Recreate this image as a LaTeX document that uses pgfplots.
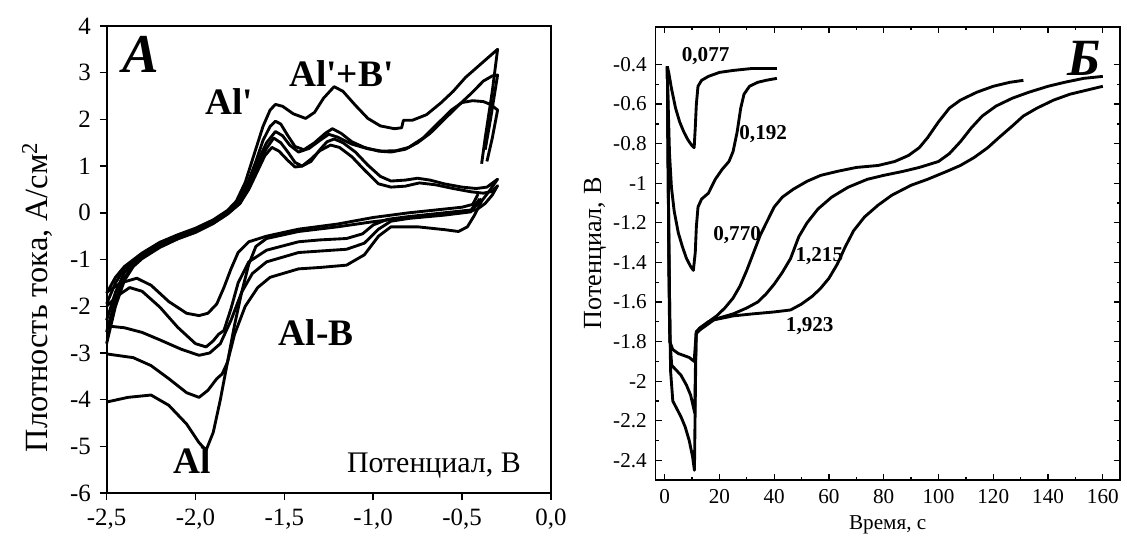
\documentclass[border=0pt]{standalone}
\usepackage{fontspec}
\setmainfont{Liberation Serif}
\usepackage{pgfplots}
\pgfplotsset{compat=1.18}
\pgfplotsset{
  /pgf/number format/assume math mode=true,
  curve/.style={black, line width=1.15pt, line join=round, no markers},
}
\newcommand{\ap}{\textquotesingle}
\begin{document}
\begin{tikzpicture}
\path (0,0) rectangle (450.8pt,216pt);
% ---------- panel A ----------
\begin{axis}[
  at={(42.8pt,18pt)}, anchor=south west,
  scale only axis, width=178.4pt, height=187.6pt,
  xmin=-2.5, xmax=0, ymin=-6, ymax=4,
  xtick={-2.5,-2,-1.5,-1,-0.5,0},
  xticklabels={{-2,5},{-2,0},{-1,5},{-1,0},{-0,5},{0,0}},
  ytick={-6,-5,-4,-3,-2,-1,0,1,2,3,4},
  tick align=outside, tick pos=left,
  major tick length=2.8pt,
  axis line style={line width=0.8pt},
  tick style={line width=0.6pt, black},
  tick label style={font=\fontsize{10}{12}\selectfont},
  ylabel={Плотность тока, А/см\textsuperscript{2}},
  ylabel style={font=\fontsize{13}{15}\selectfont, at={(ticklabel cs:0.42)}},
  clip=false,
]
% loop 1: anodic, then return
\addplot[curve] coordinates {
(-2.5,-1.72) (-2.45,-1.38) (-2.4,-1.15) (-2.3,-0.86) (-2.2,-0.63) (-2.1,-0.47) (-2.0,-0.33) (-1.9,-0.15) (-1.82,0.05) (-1.77,0.25) (-1.72,0.65) (-1.67,1.25) (-1.62,1.85) (-1.58,2.2) (-1.55,2.32) (-1.51,2.28) (-1.45,2.12) (-1.38,2.02) (-1.33,2.15) (-1.28,2.45) (-1.22,2.7) (-1.17,2.6) (-1.1,2.3) (-1.03,2.02) (-0.96,1.86) (-0.88,1.8) (-0.84,1.82) (-0.83,1.98) (-0.78,1.98) (-0.7,2.1) (-0.62,2.35) (-0.55,2.6) (-0.48,2.9) (-0.42,3.1) (-0.36,3.3) (-0.3,3.5)
(-0.33,2.6) (-0.37,1.6) (-0.39,1.05)
};
\addplot[curve] coordinates {
(-0.41,0.4) (-0.44,0.18) (-0.5,0.12) (-0.6,0.08) (-0.8,0.0) (-1.0,-0.1) (-1.2,-0.24) (-1.42,-0.35) (-1.6,-0.5) (-1.7,-0.62) (-1.76,-0.85) (-1.8,-1.2) (-1.84,-1.6) (-1.88,-1.95) (-1.93,-2.15) (-1.98,-2.2) (-2.05,-2.15) (-2.15,-1.9) (-2.25,-1.55) (-2.33,-1.4) (-2.42,-1.5) (-2.5,-1.7)
};
% loop 2
\addplot[curve] coordinates {
(-2.5,-1.95) (-2.45,-1.5) (-2.4,-1.2) (-2.3,-0.9) (-2.2,-0.66) (-2.1,-0.5) (-2.0,-0.36) (-1.9,-0.18) (-1.82,0.02) (-1.76,0.25) (-1.71,0.6) (-1.66,1.1) (-1.62,1.55) (-1.58,1.85) (-1.55,1.96) (-1.52,1.9) (-1.48,1.65) (-1.44,1.42) (-1.39,1.35) (-1.33,1.5) (-1.27,1.7) (-1.23,1.8) (-1.18,1.7) (-1.12,1.52) (-1.05,1.4) (-0.97,1.32) (-0.9,1.3) (-0.82,1.36) (-0.75,1.5) (-0.68,1.7) (-0.6,2.0) (-0.52,2.3) (-0.45,2.55) (-0.38,2.82) (-0.33,2.93) (-0.3,2.95)
(-0.34,2.0) (-0.37,1.35)
};
\addplot[curve] coordinates {
(-0.4,0.3) (-0.45,0.06) (-0.6,0.0) (-0.8,-0.08) (-0.92,-0.14) (-1.0,-0.26) (-1.06,-0.45) (-1.15,-0.55) (-1.3,-0.58) (-1.42,-0.62) (-1.6,-0.8) (-1.7,-1.05) (-1.76,-1.5) (-1.8,-2.05) (-1.84,-2.52) (-1.87,-2.6) (-1.9,-2.74) (-1.94,-2.87) (-2.0,-2.8) (-2.1,-2.45) (-2.2,-2.02) (-2.3,-1.68) (-2.37,-1.6) (-2.44,-1.78) (-2.5,-2.0)
};
% loop 3
\addplot[curve] coordinates {
(-2.5,-2.3) (-2.45,-1.7) (-2.4,-1.28) (-2.3,-0.93) (-2.2,-0.7) (-2.1,-0.53) (-2.0,-0.39) (-1.9,-0.2) (-1.82,0.0) (-1.76,0.22) (-1.7,0.6) (-1.65,1.1) (-1.6,1.5) (-1.55,1.74) (-1.51,1.65) (-1.47,1.45) (-1.42,1.3) (-1.36,1.38) (-1.3,1.55) (-1.25,1.68) (-1.2,1.62) (-1.12,1.47) (-1.03,1.37) (-0.95,1.32) (-0.87,1.33) (-0.8,1.4) (-0.72,1.6) (-0.64,1.9) (-0.56,2.2) (-0.5,2.36) (-0.44,2.4) (-0.38,2.38) (-0.34,2.32) (-0.3,2.2)
(-0.33,1.6) (-0.36,1.1)
};
\addplot[curve] coordinates {
(-0.39,0.3) (-0.45,0.02) (-0.6,-0.05) (-0.8,-0.12) (-0.9,-0.18) (-0.97,-0.35) (-1.05,-0.65) (-1.15,-0.78) (-1.42,-0.85) (-1.6,-1.05) (-1.68,-1.3) (-1.74,-1.7) (-1.8,-2.3) (-1.86,-2.8) (-1.92,-3.0) (-1.98,-3.05) (-2.08,-2.92) (-2.2,-2.72) (-2.3,-2.56) (-2.4,-2.46) (-2.5,-2.42)
};
% loop 4
\addplot[curve] coordinates {
(-2.5,-2.8) (-2.45,-2.0) (-2.4,-1.45) (-2.35,-1.15) (-2.3,-0.98) (-2.2,-0.74) (-2.1,-0.56) (-2.0,-0.42) (-1.9,-0.23) (-1.82,-0.03) (-1.75,0.2) (-1.7,0.55) (-1.65,1.0) (-1.6,1.38) (-1.56,1.6) (-1.52,1.5) (-1.48,1.3) (-1.44,1.08) (-1.4,1.0) (-1.35,1.1) (-1.3,1.35) (-1.26,1.52) (-1.22,1.58) (-1.17,1.5) (-1.1,1.3) (-1.03,1.02) (-0.96,0.78) (-0.9,0.68) (-0.82,0.7) (-0.75,0.74) (-0.68,0.7) (-0.6,0.62) (-0.5,0.55) (-0.42,0.52) (-0.36,0.55) (-0.3,0.72)
(-0.34,0.5) (-0.39,0.25) (-0.43,-0.05) (-0.47,-0.3) (-0.52,-0.4) (-0.6,-0.36) (-0.75,-0.3) (-0.9,-0.3) (-0.97,-0.5) (-1.05,-0.9) (-1.15,-1.12) (-1.3,-1.17) (-1.42,-1.2) (-1.58,-1.38) (-1.65,-1.6) (-1.72,-2.0) (-1.78,-2.6) (-1.82,-3.2) (-1.85,-3.45) (-1.88,-3.55) (-1.93,-3.8) (-1.98,-3.95) (-2.05,-3.85) (-2.15,-3.55) (-2.25,-3.27) (-2.35,-3.1) (-2.5,-3.02)
};
% loop 5
\addplot[curve] coordinates {
(-2.5,-2.55) (-2.45,-1.85) (-2.4,-1.4) (-2.35,-1.12) (-2.3,-0.95) (-2.2,-0.72) (-2.1,-0.55) (-2.0,-0.4) (-1.9,-0.22) (-1.82,-0.02) (-1.75,0.2) (-1.7,0.5) (-1.65,0.9) (-1.61,1.22) (-1.57,1.4) (-1.53,1.32) (-1.48,1.12) (-1.44,0.98) (-1.4,1.0) (-1.35,1.15) (-1.3,1.33) (-1.24,1.45) (-1.19,1.4) (-1.12,1.2) (-1.05,0.92) (-0.97,0.62) (-0.9,0.55) (-0.82,0.57) (-0.74,0.64) (-0.65,0.6) (-0.55,0.52) (-0.45,0.45) (-0.38,0.42) (-0.33,0.46) (-0.3,0.58)
(-0.33,0.38) (-0.37,0.2) (-0.42,0.06) (-0.6,-0.01) (-0.8,-0.1) (-1.0,-0.19) (-1.2,-0.3) (-1.42,-0.4) (-1.6,-0.55) (-1.66,-0.72) (-1.7,-1.1) (-1.74,-1.7) (-1.78,-2.4) (-1.82,-3.2) (-1.86,-4.0) (-1.9,-4.7) (-1.94,-5.08) (-1.98,-4.92) (-2.05,-4.52) (-2.15,-4.12) (-2.25,-3.9) (-2.38,-3.95) (-2.5,-4.05)
};
\node[font=\fontsize{22}{24}\selectfont\bfseries\itshape] at (axis cs:-2.31,3.4) {A};
\node[font=\fontsize{15}{17}\selectfont\bfseries] at (axis cs:-1.81,2.38) {Al\ap};
\node[font=\fontsize{15}{17}\selectfont\bfseries] at (axis cs:-1.18,2.98) {Al\ap+B\ap};
\node[font=\fontsize{15}{17}\selectfont\bfseries] at (axis cs:-1.32,-2.56) {Al-B};
\node[font=\fontsize{15}{17}\selectfont\bfseries] at (axis cs:-2.02,-5.3) {Al};
\node[font=\fontsize{12}{14}\selectfont, anchor=east] at (axis cs:-0.12,-5.42) {Потенциал, В};
\end{axis}
% ---------- panel Б ----------
\begin{axis}[
  at={(263.2pt,23.2pt)}, anchor=south west,
  scale only axis, width=186.4pt, height=182pt,
  xmin=-3.3, xmax=166.2, ymin=-2.5, ymax=-0.21,
  xtick={0,20,...,160}, minor x tick num=1,
  ytick={-2.4,-2.2,-2,-1.8,-1.6,-1.4,-1.2,-1,-0.8,-0.6,-0.4}, minor y tick num=1,
  tick align=inside,
  major tick length=2.4pt, minor tick length=1.2pt,
  axis line style={line width=0.6pt},
  tick style={line width=0.5pt, black},
  tick label style={font=\fontsize{8.5}{10}\selectfont},
  xlabel={Время, с},
  ylabel={Потенциал, В},
  xlabel style={font=\fontsize{8.5}{10}\selectfont, yshift=2pt},
  ylabel style={font=\fontsize{10.5}{12}\selectfont, yshift=-4pt},
]
\addplot[curve] coordinates {
(1,-0.41) (1.5,-0.44) (2.5,-0.52) (4,-0.62) (5.5,-0.69) (7,-0.74) (8.5,-0.78) (10,-0.81) (10.8,-0.82) (11.2,-0.72) (11.6,-0.6) (12.2,-0.51) (13.5,-0.48) (16,-0.46) (20,-0.44) (25,-0.43) (32,-0.42) (41,-0.42)
};
\addplot[curve] coordinates {
(1,-0.41) (1.3,-0.6) (1.8,-0.85) (2.5,-1.02) (3.5,-1.14) (5,-1.25) (6.5,-1.32) (8,-1.38) (9.5,-1.42) (10.5,-1.44) (11.2,-1.35) (11.6,-1.22) (12.2,-1.12) (13.5,-1.08) (16,-1.05) (18.5,-0.98) (21,-0.93) (23.5,-0.89) (25,-0.84) (26.5,-0.74) (27.8,-0.62) (29,-0.55) (31,-0.51) (34,-0.49) (37,-0.48) (41,-0.47)
};
\addplot[curve] coordinates {
(1,-0.41) (1.3,-0.9) (1.6,-1.5) (1.9,-1.8) (3,-1.84) (5,-1.86) (7,-1.87) (9,-1.88) (10.8,-1.9) (11.2,-1.82) (11.6,-1.75) (13,-1.73) (16,-1.7) (19,-1.67) (22,-1.63) (25,-1.58) (27.5,-1.52) (30,-1.44) (32.5,-1.35) (35,-1.26) (37.5,-1.19) (40,-1.12) (43,-1.07) (47,-1.03) (52,-0.99) (57,-0.96) (63,-0.94) (70,-0.92) (78,-0.91) (84,-0.89) (89,-0.86) (93,-0.82) (96,-0.77) (100,-0.69) (104,-0.62) (108,-0.58) (114,-0.54) (120,-0.51) (126,-0.49) (131,-0.48)
};
\addplot[curve] coordinates {
(1,-0.41) (1.5,-1.2) (2,-1.8) (2.6,-1.92) (4,-1.94) (6,-1.97) (8,-2.02) (9.5,-2.07) (10.5,-2.13) (11,-2.16) (11.3,-1.9) (11.6,-1.75) (13,-1.73) (16,-1.7) (20,-1.68) (25,-1.66) (30,-1.63) (34,-1.6) (37,-1.56) (40,-1.51) (43,-1.45) (46,-1.38) (49,-1.27) (52,-1.2) (56,-1.13) (61,-1.07) (67,-1.02) (74,-0.98) (80,-0.96) (87,-0.94) (93,-0.92) (100,-0.89) (104,-0.85) (108,-0.79) (112,-0.72) (116,-0.66) (121,-0.61) (127,-0.57) (133,-0.54) (140,-0.51) (146,-0.49) (153,-0.47) (160,-0.46)
};
\addplot[curve] coordinates {
(1,-0.41) (1.6,-1.4) (2.2,-1.95) (3,-2.1) (4.5,-2.14) (6,-2.18) (7.5,-2.23) (9,-2.3) (10.2,-2.38) (10.9,-2.45) (11.2,-2.1) (11.5,-1.76) (13,-1.74) (18,-1.69) (25,-1.67) (32,-1.66) (40,-1.65) (46,-1.64) (50,-1.61) (54,-1.57) (57,-1.53) (60,-1.48) (63,-1.41) (66,-1.32) (69,-1.24) (73,-1.17) (78,-1.11) (83,-1.06) (90,-1.01) (96,-0.98) (103,-0.94) (108,-0.91) (113,-0.87) (118,-0.82) (122,-0.77) (127,-0.71) (131,-0.66) (136,-0.62) (142,-0.58) (148,-0.55) (154,-0.53) (160,-0.51)
};
\node[font=\fontsize{8.5}{10}\selectfont\bfseries] at (axis cs:15,-0.36) {0,077};
\node[font=\fontsize{8.5}{10}\selectfont\bfseries] at (axis cs:36,-0.75) {0,192};
\node[font=\fontsize{8.5}{10}\selectfont\bfseries] at (axis cs:26.5,-1.26) {0,770};
\node[font=\fontsize{8.5}{10}\selectfont\bfseries] at (axis cs:56.5,-1.37) {1,215};
\node[font=\fontsize{8.5}{10}\selectfont\bfseries] at (axis cs:53,-1.72) {1,923};
\node[font=\fontsize{21}{23}\selectfont\bfseries\itshape] at (axis cs:153,-0.37) {Б};
\end{axis}
\end{tikzpicture}
\end{document}
